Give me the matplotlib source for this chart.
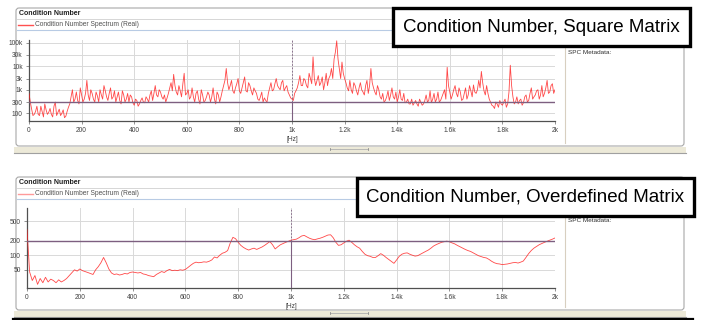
import numpy as np
import matplotlib
matplotlib.use("Agg")
import matplotlib.pyplot as plt
from matplotlib.patches import Rectangle, FancyBboxPatch
from matplotlib.ticker import FixedLocator, NullLocator

W, H = 704, 320

# spectrum sampled every 10 Hz, 0 .. 2000 Hz
freq = np.arange(0, 2001, 10)

# condition number, square matrix (10 Hz grid)
cond_square = [
    700, 150, 90, 200, 80, 120, 250, 90, 160, 70,
    300, 110, 80, 140, 75, 180, 500, 300, 800, 250,
    600, 400, 2500, 350, 700, 300, 550, 1000, 400, 900,
    350, 1200, 500, 300, 800, 250, 600, 400, 300, 500,
    220, 350, 250, 450, 280, 400, 600, 350, 1500, 500,
    800, 400, 300, 700, 2000, 4500, 800, 1500, 500, 5000,
    700, 400, 1200, 300, 900, 250, 600, 350, 800, 300,
    1200, 250, 600, 500, 1500, 8000, 1000, 2500, 700, 1800,
    900, 1200, 3500, 800, 1500, 600, 900, 400, 500, 300,
    350, 700, 2000, 1000, 3000, 1200, 2000, 900, 1500, 600,
    400, 700, 1200, 4000, 1500, 2500, 1200, 3000, 25000, 1500,
    4000, 2000, 1000, 5000, 3000, 8000, 20000, 120000, 8000, 15000,
    3000, 1200, 2500, 700, 1500, 600, 2000, 800, 1500, 700,
    8000, 1200, 600, 1000, 400, 300, 500, 350, 1200, 400,
    300, 1000, 350, 280, 400, 250, 220, 350, 200, 300,
    250, 600, 350, 280, 700, 400, 300, 500, 1000, 9000,
    800, 600, 1500, 500, 800, 400, 1200, 600, 900, 1600,
    700, 2500, 6000, 900, 1500, 400, 220, 160, 250, 350,
    220, 400, 250, 11000, 500, 300, 250, 400, 280, 600,
    350, 1200, 500, 900, 400, 1500, 700, 2500, 800, 1800,
    1000,
]

# condition number, square matrix, in-between samples (5, 15, ... 1995 Hz)
cond_square_mid = [
    300, 80, 120, 90, 200, 70, 140, 110, 90, 200,
    80, 150, 100, 65, 120, 250, 1000, 400, 350, 1200,
    300, 700, 600, 1000, 400, 800, 300, 600, 1500, 500,
    700, 400, 900, 500, 350, 900, 300, 700, 600, 280,
    400, 200, 350, 300, 500, 300, 900, 700, 600, 1000,
    500, 600, 450, 1200, 900, 1500, 600, 900, 1800, 600,
    1000, 500, 500, 700, 400, 1000, 300, 500, 600, 500,
    400, 800, 300, 900, 2500, 2000, 1500, 900, 1200, 3000,
    700, 2000, 900, 2000, 900, 1200, 700, 350, 800, 450,
    300, 1200, 900, 1800, 1500, 1000, 2500, 1200, 800, 450,
    350, 900, 2000, 1500, 3000, 1500, 5000, 1800, 3000, 2500,
    1500, 3500, 2000, 1500, 4000, 3000, 40000, 20000, 3000, 5000,
    2000, 900, 1000, 2000, 900, 1200, 1000, 600, 2500, 1500,
    2000, 800, 1500, 500, 700, 350, 900, 600, 500, 800,
    500, 400, 700, 300, 250, 400, 280, 250, 400, 220,
    350, 300, 900, 400, 300, 800, 350, 700, 400, 1500,
    400, 1000, 700, 1200, 350, 700, 400, 1500, 500, 800,
    1000, 1200, 2000, 600, 700, 300, 200, 300, 180, 250,
    300, 180, 800, 1500, 250, 500, 350, 220, 500, 300,
    700, 400, 600, 1000, 600, 500, 1200, 700, 1500, 700,
]

# condition number, overdefined matrix (10 Hz grid)
cond_over = [
    340, 45, 30, 38, 25, 33, 27, 35, 28, 32,
    30, 27, 31, 28, 30, 33, 38, 44, 50, 47,
    52, 48, 46, 44, 42, 40, 50, 58, 70, 90,
    70, 52, 43, 40, 41, 39, 40, 42, 41, 44,
    45, 44, 43, 44, 41, 40, 38, 37, 36, 40,
    43, 46, 44, 48, 51, 48, 49, 48, 50, 49,
    51, 56, 62, 68, 72, 70, 71, 73, 72, 75,
    80, 92, 88, 100, 110, 115, 125, 180, 235, 220,
    185, 160, 145, 135, 128, 135, 140, 132, 140, 148,
    160, 175, 192, 165, 135, 150, 165, 175, 185, 195,
    205, 210, 215, 230, 250, 258, 240, 225, 215, 210,
    218, 225, 235, 248, 262, 265, 230, 185, 160, 165,
    180, 195, 205, 185, 165, 150, 140, 120, 105, 98,
    95, 90, 90, 98, 108, 100, 90, 82, 75, 68,
    80, 95, 105, 110, 112, 105, 100, 96, 98, 105,
    112, 120, 128, 140, 155, 166, 175, 185, 190, 196,
    190, 180, 172, 160, 150, 140, 132, 125, 120, 112,
    105, 98, 94, 90, 88, 82, 75, 70, 67, 66,
    64, 65, 66, 68, 70, 71, 69, 72, 76, 90,
    108, 125, 140, 152, 165, 175, 185, 195, 205, 215,
    228,
]

x_ticks = [0, 200, 400, 600, 800, 1000, 1200, 1400, 1600, 1800, 2000]
x_labels = ["0", "200", "400", "600", "800", "1k", "1.2k", "1.4k", "1.6k", "1.8k", "2k"]
sq_ticks = [100, 300, 1000, 3000, 10000, 30000, 100000]
sq_labels = ["100", "300", "1k", "3k", "10k", "30k", "100k"]
ov_ticks = [50, 100, 200, 500]
ov_labels = ["50", "100", "200", "500"]

cursor_hz = 1000
sq_level = 300
ov_level = 200

small = ["Liberation Sans", "DejaVu Sans"]
grid_c = "#d9d9d9"
axis_c = "#505050"
cursor_c = "#7d5f80"
red = "#ff1a1a"

# merge the 10 Hz grid and the in-between samples into one 5 Hz trace
freq_fine = np.arange(0, 2001, 5)
sq_fine = np.empty(len(freq_fine))
sq_fine[0::2] = cond_square
sq_fine[1::2] = cond_square_mid

fig = plt.figure(figsize=(W / 100, H / 100), dpi=100)

# window chrome drawn in pixel coordinates
bg = fig.add_axes([0, 0, 1, 1], zorder=0)
bg.set_xlim(0, W)
bg.set_ylim(H, 0)
bg.axis("off")


def panel(top, bottom, title, legend_color):
    bg.add_patch(FancyBboxPatch((16, top), 668, bottom - top,
                                boxstyle="round,pad=0,rounding_size=3",
                                fc="white", ec="#a8a8a8", lw=0.8))
    bg.plot([17, 683], [top + 11, top + 11], color="#d0d0d0", lw=0.6)
    bg.plot([17, 683], [top + 21.5, top + 21.5], color="#b8cbe4", lw=0.8)
    bg.text(19, top + 5.5, title, fontsize=5, fontweight="bold",
            family=small, va="center", color="#202020")
    bg.plot([18, 33], [top + 16.5, top + 16.5], color=legend_color, lw=1.0)
    bg.text(35, top + 16.5, "Condition Number Spectrum (Real)", fontsize=4.8,
            family=small, va="center", color="#505050")
    bg.plot([565, 565], [top + 32, bottom - 3], color="#d8cfc0", lw=0.8)
    bg.text(568, top + 44, "SPC Metadata:", fontsize=4.6, family=small,
            va="center", color="#303030")
    # status strip with scroll handle
    bg.add_patch(Rectangle((14, bottom + 1), 672, 6, fc="#ece9d8", ec="none"))
    bg.plot([14, 686], [bottom + 7, bottom + 7], color="#a0a0a0", lw=0.8)
    bg.plot([330, 368], [bottom + 3, bottom + 3], color="#b0b0b0", lw=0.6)
    bg.plot([330, 330], [bottom + 2, bottom + 4], color="#909090", lw=0.6)
    bg.plot([368, 368], [bottom + 2, bottom + 4], color="#909090", lw=0.6)


panel(8, 146, "Condition Number", "#ff5050")
panel(177, 310, "Condition Number", "#ff9a9a")
bg.plot([13, 693], [318.5, 318.5], color="black", lw=1.6)


def px_axes(x0, y0, x1, y1):
    return fig.add_axes([x0 / W, 1 - y1 / H, (x1 - x0) / W, (y1 - y0) / H], zorder=2)


def spectrum(ax, f, values, ylim, yticks, ylabels, level, lw):
    ax.set_yscale("log")
    ax.set_xlim(0, 2000)
    ax.set_ylim(*ylim)
    ax.patch.set_alpha(0)
    for s in ["top", "right"]:
        ax.spines[s].set_visible(False)
    for s in ["left", "bottom"]:
        ax.spines[s].set_color(axis_c)
        ax.spines[s].set_linewidth(0.9)
    ax.xaxis.set_major_locator(FixedLocator(x_ticks))
    ax.set_xticklabels(x_labels)
    ax.yaxis.set_major_locator(FixedLocator(yticks))
    ax.yaxis.set_minor_locator(NullLocator())
    ax.set_yticklabels(ylabels)
    ax.tick_params(length=2.5, width=0.6, color="#808080", pad=2,
                   labelsize=4.8, labelcolor="#404040")
    for lab in ax.get_xticklabels() + ax.get_yticklabels():
        lab.set_family(small)
    ax.grid(True, color=grid_c, lw=0.7)
    ax.plot(f, values, color=red, lw=lw, alpha=0.8, zorder=3)
    ax.axhline(level, color=cursor_c, lw=1.0, zorder=4)
    ax.plot([cursor_hz, cursor_hz], [level, ylim[1]], color=cursor_c,
            lw=0.6, ls=(0, (2, 2)), zorder=4)
    ax.plot([cursor_hz, cursor_hz], [ylim[0], level], color=cursor_c,
            lw=0.8, zorder=4)
    ax.set_xlabel("[Hz]", fontsize=4.8, family=small, color="#404040", labelpad=1)


ax1 = px_axes(29, 40, 555, 121)
spectrum(ax1, freq_fine, sq_fine, (47, 130000), sq_ticks, sq_labels, sq_level, 0.6)

ax2 = px_axes(27, 208, 555, 288)
spectrum(ax2, freq, cond_over, (21, 950), ov_ticks, ov_labels, ov_level, 0.6)

# caption boxes on top of everything
fg = fig.add_axes([0, 0, 1, 1], zorder=10)
fg.set_xlim(0, W)
fg.set_ylim(H, 0)
fg.axis("off")
fg.patch.set_alpha(0)
for x0, y0, x1, y1, txt in [(393, 7.5, 690, 46, "Condition Number, Square Matrix"),
                            (357, 177.5, 694, 216, "Condition Number, Overdefined Matrix")]:
    fg.add_patch(Rectangle((x0, y0), x1 - x0, y1 - y0, fc="white", ec="black", lw=2.4))
    fg.text((x0 + x1) / 2, (y0 + y1) / 2 + 0.5, txt, fontsize=13.5,
            family="Liberation Sans", ha="center", va="center", color="black")

fig.savefig("out.png", dpi=100)
